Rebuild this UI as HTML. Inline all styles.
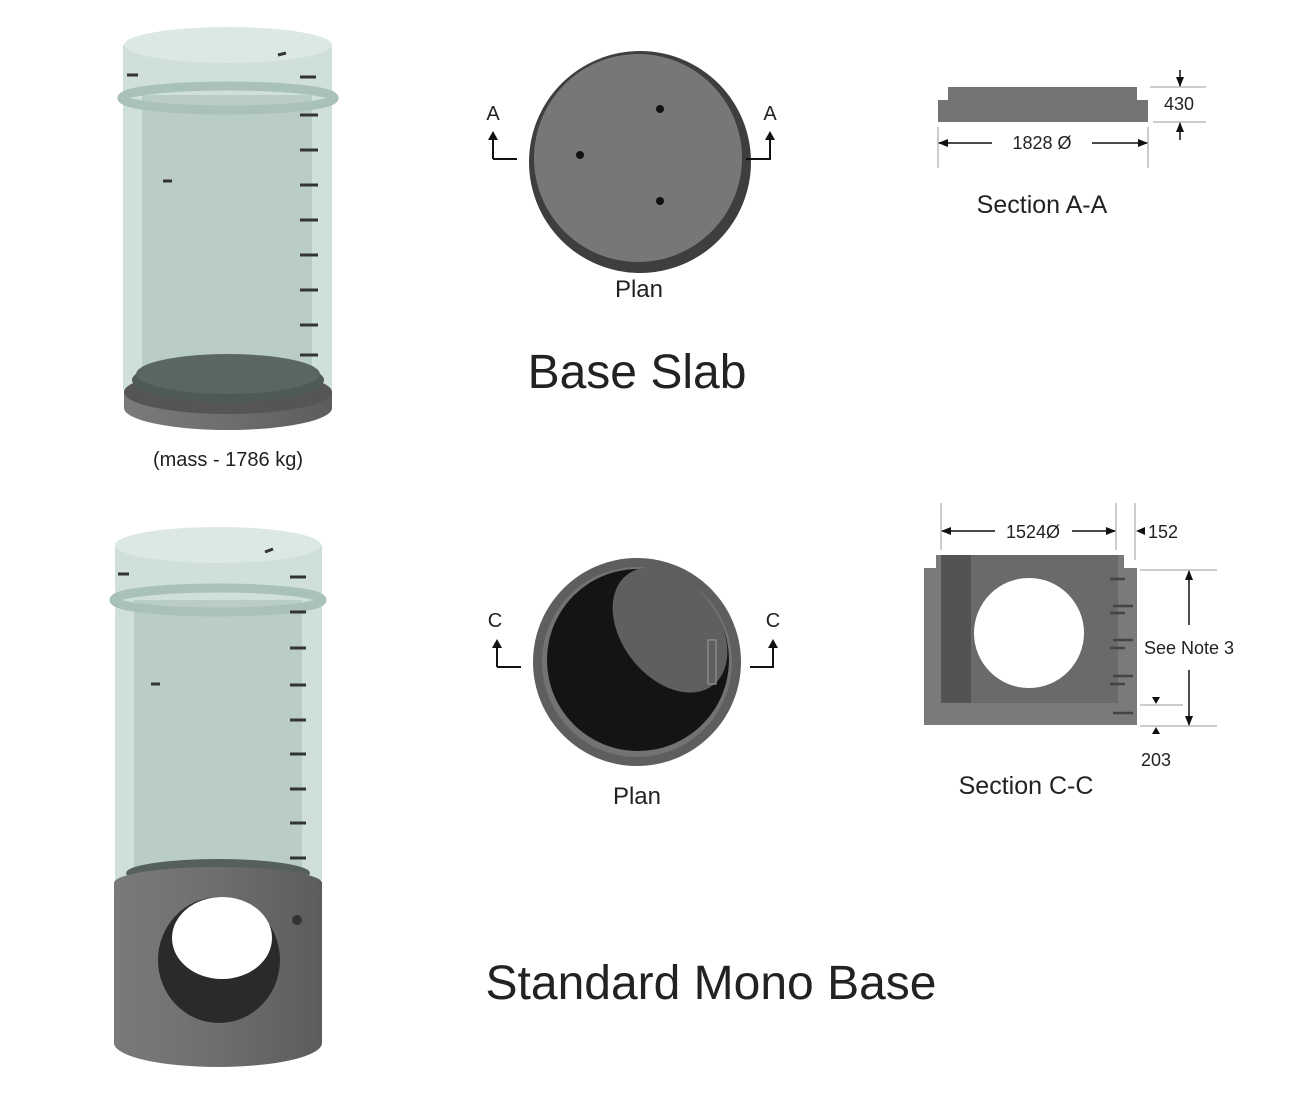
<!DOCTYPE html>
<html><head><meta charset="utf-8"><style>
html,body{margin:0;padding:0;background:#fff}
svg{display:block}
text{font-family:"Liberation Sans",sans-serif;fill:#222}
</style></head><body>
<svg width="1300" height="1101" viewBox="0 0 1300 1101" xmlns="http://www.w3.org/2000/svg">
<defs>
<linearGradient id="cyl" x1="0" x2="1">
<stop offset="0" stop-color="#7a7a7a"/><stop offset="0.5" stop-color="#6e6e6e"/><stop offset="1" stop-color="#5c5c5c"/>
</linearGradient>
<marker id="ar" markerWidth="10" markerHeight="8" refX="9" refY="4" orient="auto" markerUnits="userSpaceOnUse"><path d="M0,0 L10,4 L0,8 z" fill="#111"/></marker>
</defs>

<!-- Top 3D glass cylinder -->
<rect x="123" y="45" width="209" height="345" fill="#cfe0da"/>
<ellipse cx="228" cy="45" rx="104" ry="18" fill="#dbe8e3"/>
<rect x="142" y="95" width="170" height="290" fill="#b9cdc6"/>
<ellipse cx="228" cy="98" rx="106" ry="12" fill="none" stroke="#a9c1b9" stroke-width="9"/>
<g stroke="#333" stroke-width="3">
<line x1="300" y1="77" x2="316" y2="77"/><line x1="300" y1="115" x2="318" y2="115"/><line x1="300" y1="150" x2="318" y2="150"/><line x1="300" y1="185" x2="318" y2="185"/><line x1="300" y1="220" x2="318" y2="220"/><line x1="300" y1="255" x2="318" y2="255"/><line x1="300" y1="290" x2="318" y2="290"/><line x1="300" y1="325" x2="318" y2="325"/><line x1="300" y1="355" x2="318" y2="355"/>
<line x1="127" y1="75" x2="138" y2="75"/><line x1="163" y1="181" x2="172" y2="181"/><line x1="278" y1="55" x2="286" y2="53"/>
</g>
<!-- base slab -->
<path d="M124,392 L124,408 A104,22 0 0 0 332,408 L332,392 Z" fill="url(#cyl)"/>
<ellipse cx="228" cy="392" rx="104" ry="22" fill="#555"/>
<ellipse cx="228" cy="380" rx="96" ry="22" fill="#4e5a55"/>
<ellipse cx="228" cy="374" rx="92" ry="20" fill="#5a6661"/>
<text x="228" y="466" font-size="20" text-anchor="middle">(mass - 1786 kg)</text>

<!-- Plan 1 -->
<circle cx="640" cy="162" r="111" fill="#3e3e3e"/>
<circle cx="638" cy="158" r="104" fill="#777"/>
<circle cx="660" cy="109" r="4" fill="#111"/><circle cx="580" cy="155" r="4" fill="#111"/><circle cx="660" cy="201" r="4" fill="#111"/>
<text x="493" y="120" font-size="20" text-anchor="middle">A</text>
<text x="770" y="120" font-size="20" text-anchor="middle">A</text>
<path d="M493,159 L517,159 M493,159 L493,136" stroke="#111" stroke-width="2" fill="none"/>
<path d="M488,140 L493,131 L498,140 Z" fill="#111"/>
<path d="M746,159 L770,159 L770,136" stroke="#111" stroke-width="2" fill="none"/>
<path d="M765,140 L770,131 L775,140 Z" fill="#111"/>
<text x="639" y="297" font-size="24" text-anchor="middle">Plan</text>
<text x="637" y="388" font-size="48" text-anchor="middle">Base Slab</text>

<!-- Section A-A -->
<path d="M948,87 L1137,87 L1137,100 L1148,100 L1148,122 L938,122 L938,100 L948,100 Z" fill="#747474"/>
<line x1="1150" y1="87" x2="1206" y2="87" stroke="#999"/>
<line x1="1153" y1="122" x2="1206" y2="122" stroke="#999"/>
<line x1="1180" y1="70" x2="1180" y2="86" stroke="#111" stroke-width="1.5" marker-end="url(#ar)"/>
<line x1="1180" y1="140" x2="1180" y2="123" stroke="#111" stroke-width="1.5" marker-end="url(#ar)"/>
<text x="1179" y="110" font-size="18" text-anchor="middle">430</text>
<line x1="938" y1="127" x2="938" y2="168" stroke="#999"/>
<line x1="1148" y1="127" x2="1148" y2="168" stroke="#999"/>
<line x1="992" y1="143" x2="939" y2="143" stroke="#111" stroke-width="1.5" marker-end="url(#ar)"/>
<line x1="1092" y1="143" x2="1147" y2="143" stroke="#111" stroke-width="1.5" marker-end="url(#ar)"/>
<text x="1042" y="149" font-size="18" text-anchor="middle">1828 Ø</text>
<text x="1042" y="213" font-size="25" text-anchor="middle">Section A-A</text>

<!-- Bottom 3D glass -->
<rect x="115" y="545" width="207" height="335" fill="#cfe0da"/>
<ellipse cx="218" cy="545" rx="103" ry="18" fill="#dbe8e3"/>
<rect x="134" y="600" width="168" height="270" fill="#b9cdc6"/>
<ellipse cx="218" cy="600" rx="104" ry="12" fill="none" stroke="#a9c1b9" stroke-width="9"/>
<g stroke="#333" stroke-width="3">
<line x1="290" y1="577" x2="306" y2="577"/><line x1="290" y1="612" x2="306" y2="612"/><line x1="290" y1="648" x2="306" y2="648"/><line x1="290" y1="685" x2="306" y2="685"/><line x1="290" y1="720" x2="306" y2="720"/><line x1="290" y1="754" x2="306" y2="754"/><line x1="290" y1="789" x2="306" y2="789"/><line x1="290" y1="823" x2="306" y2="823"/><line x1="290" y1="858" x2="306" y2="858"/>
<line x1="118" y1="574" x2="129" y2="574"/><line x1="151" y1="684" x2="160" y2="684"/><line x1="265" y1="552" x2="273" y2="549"/>
</g>
<!-- mono base -->
<ellipse cx="218" cy="873" rx="92" ry="14" fill="#55605b"/>
<path d="M114,883 L114,1043 A104,24 0 0 0 322,1043 L322,883 A104,16 0 0 0 114,883 Z" fill="url(#cyl)"/>
<ellipse cx="219" cy="960" rx="61" ry="63" fill="#2a2a2a"/>
<ellipse cx="222" cy="938" rx="50" ry="41" fill="#fff"/>
<circle cx="297" cy="920" r="5" fill="#333"/>

<!-- Plan 2 -->
<circle cx="637" cy="662" r="104" fill="#5e5e5e"/>
<circle cx="637" cy="662" r="95" fill="#888" opacity="0.5"/>
<circle cx="638" cy="660" r="91" fill="#141414"/>
<ellipse cx="670" cy="630" rx="48" ry="70" transform="rotate(-38 670 630)" fill="#5f5f5f"/>
<rect x="708" y="640" width="8" height="44" fill="none" stroke="#888" stroke-width="1.5"/>
<text x="495" y="627" font-size="20" text-anchor="middle">C</text>
<text x="773" y="627" font-size="20" text-anchor="middle">C</text>
<path d="M497,667 L521,667 M497,667 L497,645" stroke="#111" stroke-width="2" fill="none"/>
<path d="M492,648 L497,639 L502,648 Z" fill="#111"/>
<path d="M750,667 L773,667 L773,645" stroke="#111" stroke-width="2" fill="none"/>
<path d="M768,648 L773,639 L778,648 Z" fill="#111"/>
<text x="637" y="804" font-size="24" text-anchor="middle">Plan</text>
<text x="711" y="999" font-size="48" text-anchor="middle">Standard Mono Base</text>

<!-- Section C-C -->
<path d="M936,555 L1124,555 L1124,568 L1137,568 L1137,725 L924,725 L924,568 L936,568 Z" fill="#7a7a7a"/>
<rect x="941" y="555" width="177" height="148" fill="#6a6a6a"/>
<rect x="941" y="555" width="30" height="148" fill="#444" opacity="0.6"/>
<circle cx="1029" cy="633" r="55" fill="#fff"/>
<g stroke="#444" stroke-width="2.5" fill="none">
<line x1="1110" y1="579" x2="1125" y2="579"/><line x1="1110" y1="613" x2="1125" y2="613"/><line x1="1110" y1="648" x2="1125" y2="648"/><line x1="1110" y1="684" x2="1125" y2="684"/>
<line x1="1113" y1="606" x2="1133" y2="606"/><line x1="1113" y1="640" x2="1133" y2="640"/><line x1="1113" y1="676" x2="1133" y2="676"/><line x1="1113" y1="713" x2="1133" y2="713"/>
</g>
<line x1="941" y1="503" x2="941" y2="550" stroke="#999"/>
<line x1="1116" y1="503" x2="1116" y2="550" stroke="#999"/>
<line x1="1135" y1="503" x2="1135" y2="560" stroke="#999"/>
<line x1="995" y1="531" x2="942" y2="531" stroke="#111" stroke-width="1.5" marker-end="url(#ar)"/>
<line x1="1072" y1="531" x2="1115" y2="531" stroke="#111" stroke-width="1.5" marker-end="url(#ar)"/>
<text x="1033" y="538" font-size="18" text-anchor="middle">1524Ø</text>
<path d="M1136,531 L1145,527 L1145,535 Z" fill="#111"/>
<text x="1148" y="538" font-size="18">152</text>
<line x1="1140" y1="570" x2="1217" y2="570" stroke="#999"/>
<line x1="1140" y1="705" x2="1183" y2="705" stroke="#999"/>
<line x1="1140" y1="726" x2="1217" y2="726" stroke="#999"/>
<line x1="1189" y1="625" x2="1189" y2="571" stroke="#111" stroke-width="1.5" marker-end="url(#ar)"/>
<line x1="1189" y1="670" x2="1189" y2="725" stroke="#111" stroke-width="1.5" marker-end="url(#ar)"/>
<text x="1189" y="654" font-size="18" text-anchor="middle">See Note 3</text>
<path d="M1152,697 L1160,697 L1156,704 Z" fill="#111"/>
<path d="M1152,734 L1160,734 L1156,727 Z" fill="#111"/>
<text x="1156" y="766" font-size="18" text-anchor="middle">203</text>
<text x="1026" y="794" font-size="25" text-anchor="middle">Section C-C</text>
</svg>
</body></html>
